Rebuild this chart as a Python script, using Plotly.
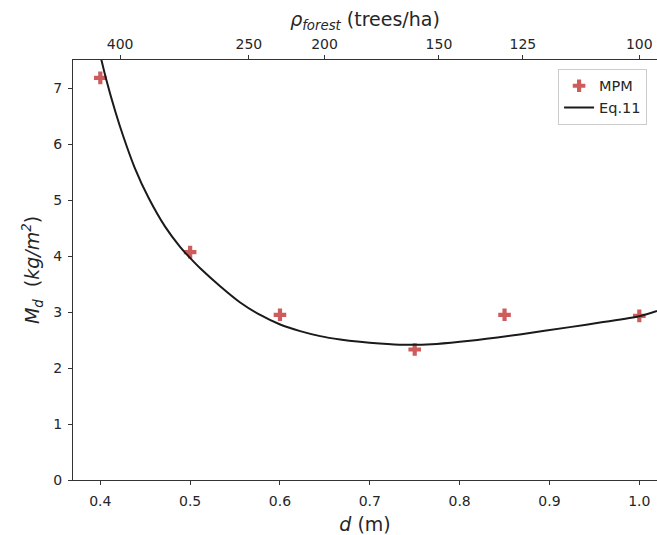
import plotly.graph_objects as go

# MPM measured points
mpm_d = [0.4, 0.5, 0.6, 0.75, 0.85, 1.0]
mpm_M = [7.18, 4.07, 2.95, 2.33, 2.95, 2.93]

# Eq.11 curve
eq_d = [0.3995, 0.4011, 0.4063, 0.4167, 0.4259, 0.4382, 0.4537, 0.4723, 0.489, 0.502,
        0.5112, 0.5334, 0.5557, 0.578, 0.6002, 0.6225, 0.6447, 0.667, 0.689, 0.711,
        0.737, 0.7745, 0.8115, 0.867, 0.9227, 0.9597, 1.0, 1.0197]
eq_M = [7.62, 7.51, 7.17, 6.58, 6.12, 5.58, 5.04, 4.52, 4.16, 3.93,
        3.78, 3.46, 3.17, 2.947, 2.776, 2.658, 2.569, 2.509, 2.467, 2.437,
        2.414, 2.43, 2.485, 2.60, 2.73, 2.82, 2.925, 3.02]

x_ticks = [0.4, 0.5, 0.6, 0.7, 0.8, 0.9, 1.0]
x_ticklabels = ["0.4", "0.5", "0.6", "0.7", "0.8", "0.9", "1.0"]
y_ticks = [0, 1, 2, 3, 4, 5, 6, 7]
rho_ticks = [400, 250, 200, 150, 125, 100]

# forest density <-> spacing conversion (power law between the two axes)
RHO_REF = 100.0
EXP = 1.607
rho_pos = [(r / RHO_REF) ** (-1.0 / EXP) for r in rho_ticks]

x_range = [0.3696, 1.0197]
y_range = [0, 7.5]

font_family = "DejaVu Sans"
axis_col = "#333333"
txt_col = "#262626"
tick_font = dict(family=font_family, size=14, color=txt_col)

fig = go.Figure()
fig.add_trace(go.Scatter(
    x=mpm_d, y=mpm_M, mode="markers", name="MPM",
    marker=dict(symbol="cross", size=10.5, color="#cd5c5c", line=dict(width=0)),
))
fig.add_trace(go.Scatter(
    x=eq_d, y=eq_M, mode="lines", name="Eq.11",
    line=dict(color="#1a1a1a", width=2, shape="spline", smoothing=0.6),
))
# invisible trace to activate the top axis
fig.add_trace(go.Scatter(x=[rho_pos[0]], y=[None], xaxis="x2", showlegend=False,
                         hoverinfo="skip"))

common = dict(showgrid=False, zeroline=False, showline=True, linecolor=axis_col,
              linewidth=1.2, ticks="outside", ticklen=4, tickwidth=1,
              tickcolor=axis_col, tickfont=tick_font, automargin=False)

fig.update_layout(
    width=657, height=535,
    margin=dict(l=73, r=0, t=60, b=55),
    paper_bgcolor="white", plot_bgcolor="white",
    font=dict(family=font_family, color=txt_col),
    xaxis=dict(
        range=x_range, tickvals=x_ticks, ticktext=x_ticklabels, **common,
        ticklabelstandoff=4,
        title=dict(text="<i>d</i> (m)", font=dict(family=font_family, size=19, color=txt_col),
                   standoff=10),
    ),
    xaxis2=dict(
        range=x_range, overlaying="x", side="top", anchor="y",
        tickvals=rho_pos, ticktext=[str(r) for r in rho_ticks], **common,
        title=dict(text="<i>ρ<sub>forest</sub></i> (trees/ha)",
                   font=dict(family=font_family, size=19, color=txt_col), standoff=4),
    ),
    yaxis=dict(
        range=y_range, tickvals=y_ticks, **common,
        ticklabelstandoff=3,
        title=dict(text="<i>M<sub>d</sub></i>&nbsp;&nbsp;(<i>kg/m<sup>2</sup></i>)",
                   font=dict(family=font_family, size=19, color=txt_col), standoff=8),
    ),
    legend=dict(
        x=0.8306, y=0.979, xanchor="left", yanchor="top",
        bgcolor="white", bordercolor="#cccccc", borderwidth=1,
        font=dict(family=font_family, size=14.5, color=txt_col),
        itemwidth=30, tracegroupgap=0,
    ),
    showlegend=True,
)

fig.write_html(
    "out.html",
    config={"displayModeBar": False},
    post_script="document.body.style.margin='0';document.body.style.padding='0';"
                "document.body.style.overflow='hidden';",
)
